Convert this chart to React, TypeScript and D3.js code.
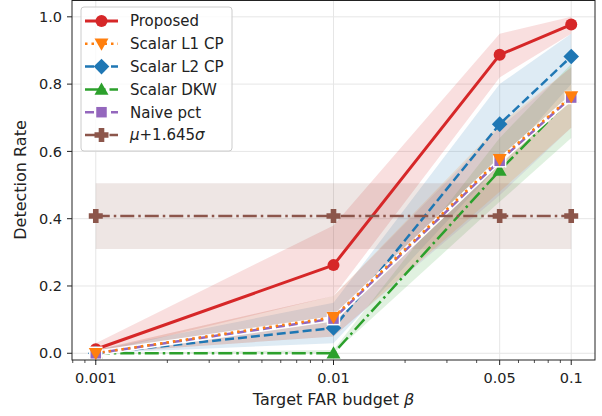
import * as d3 from "d3";
import { useEffect, useRef } from "react";

// x positions (target FAR budget)
const budgets = [0.001, 0.01, 0.05, 0.1];
const xTicks = [0.001, 0.01, 0.05, 0.1];
const xTickLabels = ["0.001", "0.01", "0.05", "0.1"];
const yTicks = [0, 0.2, 0.4, 0.6, 0.8, 1.0];

// series means
const proposed = [0.012, 0.262, 0.887, 0.977];
const l1cp = [0.0, 0.107, 0.577, 0.763];
const l2cp = [0.0, 0.075, 0.681, 0.882];
const dkw = [0.0, 0.0, 0.543, 0.76];
const naive = [0.0, 0.103, 0.572, 0.76];
const musigma = [0.408, 0.408, 0.408, 0.408];

// band bounds
const proposedLo = [0.0, 0.17, 0.82, 0.95];
const proposedHi = [0.03, 0.38, 0.95, 1.0];
const l1cpLo = [0.0, 0.05, 0.48, 0.67];
const l1cpHi = [0.01, 0.17, 0.68, 0.85];
const l2cpLo = [0.0, 0.03, 0.56, 0.8];
const l2cpHi = [0.01, 0.15, 0.8, 0.95];
const dkwLo = [0.0, 0.0, 0.45, 0.64];
const dkwHi = [0.0, 0.01, 0.64, 0.86];
const naiveLo = [0.0, 0.05, 0.47, 0.67];
const naiveHi = [0.01, 0.17, 0.67, 0.85];
const musigmaLo = [0.31, 0.31, 0.31, 0.31];
const musigmaHi = [0.505, 0.505, 0.505, 0.505];

type Series = {
  label: string;
  color: string;
  values: number[];
  lo: number[];
  hi: number[];
  dash: string | null;
  width: number;
  marker: string;
  halo?: boolean;
};

const series: Series[] = [
  { label: "Proposed", color: "#d62728", values: proposed, lo: proposedLo, hi: proposedHi, dash: null, width: 3, marker: "circle" },
  { label: "Scalar L2 CP", color: "#1f77b4", values: l2cp, lo: l2cpLo, hi: l2cpHi, dash: "9,4", width: 2.5, marker: "diamond" },
  { label: "Scalar DKW", color: "#2ca02c", values: dkw, lo: dkwLo, hi: dkwHi, dash: "14,4,2.5,4", width: 2.5, marker: "triUp" },
  { label: "Naive pct", color: "#9467bd", values: naive, lo: naiveLo, hi: naiveHi, dash: "9,4", width: 2.5, marker: "square", halo: true },
  { label: "Scalar L1 CP", color: "#ff7f0e", values: l1cp, lo: l1cpLo, hi: l1cpHi, dash: "2.5,4", width: 2.5, marker: "triDown" },
  { label: "μ+1.645σ", color: "#8c564b", values: musigma, lo: musigmaLo, hi: musigmaHi, dash: "14,4,2.5,4", width: 2.5, marker: "plus" },
];

const legendOrder = ["Proposed", "Scalar L1 CP", "Scalar L2 CP", "Scalar DKW", "Naive pct", "μ+1.645σ"];

const FONT = "DejaVu Sans, sans-serif";

function drawMarker(g: d3.Selection<SVGGElement, unknown, null, undefined>, kind: string, x: number, y: number, color: string) {
  if (kind === "circle") {
    g.append("circle").attr("cx", x).attr("cy", y).attr("r", 6).attr("fill", color);
  } else if (kind === "diamond") {
    const s = 7.8;
    g.append("path").attr("d", `M${x},${y - s}L${x + s},${y}L${x},${y + s}L${x - s},${y}Z`).attr("fill", color);
  } else if (kind === "square") {
    const s = 6;
    g.append("rect").attr("x", x - s).attr("y", y - s).attr("width", 2 * s).attr("height", 2 * s)
      .attr("fill", color).attr("stroke", "white").attr("stroke-width", 1.5);
  } else if (kind === "triDown") {
    const s = 7;
    g.append("path").attr("d", `M${x - s},${y - s * 0.75}L${x + s},${y - s * 0.75}L${x},${y + s}Z`).attr("fill", color);
  } else if (kind === "triUp") {
    const s = 7;
    g.append("path").attr("d", `M${x - s},${y + s * 0.75}L${x + s},${y + s * 0.75}L${x},${y - s}Z`).attr("fill", color);
  } else if (kind === "plus") {
    const a = 7, b = 2.8;
    g.append("path")
      .attr("d", `M${x - b},${y - a}H${x + b}V${y - b}H${x + a}V${y + b}H${x + b}V${y + a}H${x - b}V${y + b}H${x - a}V${y - b}H${x - b}Z`)
      .attr("fill", color);
  }
}

export default function App() {
  const ref = useRef<SVGSVGElement>(null);

  useEffect(() => {
    if (!ref.current) return;
    const svg = d3.select(ref.current);
    svg.selectAll("*").remove();

    const W = 602, H = 416;
    const left = 72, right = 595, top = 0, bottom = 360;

    const x = d3.scaleLog().domain([10 ** -3.1, 10 ** -0.9]).range([left, right]);
    const y = d3.scaleLinear().domain([-0.02, 1.05]).range([bottom, top]);

    svg.attr("viewBox", `0 0 ${W} ${H}`);
    svg.append("rect").attr("width", W).attr("height", H).attr("fill", "white");

    // grid
    const grid = svg.append("g").attr("stroke", "#e6e6e6").attr("stroke-width", 1);
    xTicks.forEach(t => grid.append("line").attr("x1", x(t)).attr("x2", x(t)).attr("y1", top).attr("y2", bottom));
    yTicks.forEach(t => grid.append("line").attr("x1", left).attr("x2", right).attr("y1", y(t)).attr("y2", y(t)));

    const plot = svg.append("g");

    // bands
    series.forEach(s => {
      const area = d3.area<number>()
        .x((_, i) => x(budgets[i]))
        .y0((_, i) => y(s.lo[i]))
        .y1((_, i) => y(s.hi[i]));
      plot.append("path").attr("d", area(s.values) as string).attr("fill", s.color).attr("opacity", 0.15);
    });

    // lines + markers
    const line = d3.line<number>().x((_, i) => x(budgets[i])).y(d => y(d));
    series.forEach(s => {
      if (s.halo) {
        plot.append("path").attr("d", line(s.values) as string).attr("fill", "none")
          .attr("stroke", "white").attr("stroke-width", s.width + 3);
      }
      const p = plot.append("path").attr("d", line(s.values) as string).attr("fill", "none")
        .attr("stroke", s.color).attr("stroke-width", s.width).attr("stroke-linejoin", "round");
      if (s.dash) p.attr("stroke-dasharray", s.dash);
    });
    series.forEach(s => {
      const mg = plot.append("g");
      s.values.forEach((v, i) => drawMarker(mg, s.marker, x(budgets[i]), y(v), s.color));
    });

    // spines
    svg.append("rect").attr("x", left).attr("y", top + 0.5).attr("width", right - left).attr("height", bottom - top - 0.5)
      .attr("fill", "none").attr("stroke", "#222").attr("stroke-width", 1);

    // x ticks
    const ax = svg.append("g").attr("font-family", FONT).attr("font-size", 14.5).attr("fill", "#222");
    xTicks.forEach((t, i) => {
      ax.append("line").attr("x1", x(t)).attr("x2", x(t)).attr("y1", bottom).attr("y2", bottom + 5).attr("stroke", "#222");
      ax.append("text").attr("x", x(t)).attr("y", 383).attr("text-anchor", "middle").text(xTickLabels[i]);
    });
    const [d0, d1] = x.domain();
    for (let e = -4; e <= -1; e++) {
      for (let m = 2; m <= 9; m++) {
        const v = m * 10 ** e;
        if (v < d0 || v > d1 || v === 0.05) continue;
        ax.append("line").attr("x1", x(v)).attr("x2", x(v)).attr("y1", bottom).attr("y2", bottom + 3).attr("stroke", "#222").attr("stroke-width", 0.8);
      }
    }
    // y ticks
    yTicks.forEach(t => {
      ax.append("line").attr("x1", left - 5).attr("x2", left).attr("y1", y(t)).attr("y2", y(t)).attr("stroke", "#222");
      ax.append("text").attr("x", 62).attr("y", y(t)).attr("dy", "0.36em").attr("text-anchor", "end").text(t.toFixed(1));
    });

    // axis labels
    const xl = svg.append("text").attr("x", (left + right) / 2).attr("y", 405).attr("text-anchor", "middle")
      .attr("font-family", FONT).attr("font-size", 16).attr("fill", "#222");
    xl.append("tspan").text("Target FAR budget ");
    xl.append("tspan").attr("font-style", "italic").text("β");
    svg.append("text").attr("transform", `translate(26,${(top + bottom) / 2}) rotate(-90)`).attr("text-anchor", "middle")
      .attr("font-family", FONT).attr("font-size", 16).attr("fill", "#222").text("Detection Rate");

    // legend
    const lg = svg.append("g");
    lg.append("rect").attr("x", 81).attr("y", 7).attr("width", 151).attr("height", 144).attr("rx", 3)
      .attr("fill", "white").attr("fill-opacity", 0.8).attr("stroke", "#cccccc");
    legendOrder.forEach((name, i) => {
      const s = series.find(d => d.label === name)!;
      const cy = 21 + i * 22.8;
      const l = lg.append("line").attr("x1", 85).attr("x2", 118).attr("y1", cy).attr("y2", cy)
        .attr("stroke", s.color).attr("stroke-width", s.width);
      if (s.dash) l.attr("stroke-dasharray", s.dash);
      const mg = lg.append("g");
      drawMarker(mg, s.marker, 101.5, cy, s.color);
      const t = lg.append("text").attr("x", 130).attr("y", cy).attr("dy", "0.36em")
        .attr("font-family", FONT).attr("font-size", 15).attr("fill", "#222");
      if (name === "μ+1.645σ") {
        t.append("tspan").attr("font-style", "italic").text("μ");
        t.append("tspan").text("+1.645");
        t.append("tspan").attr("font-style", "italic").text("σ");
      } else {
        t.text(name);
      }
    });
  }, []);

  return <svg ref={ref} width={602} height={416} style={{ display: "block", position: "absolute", left: 0, top: 0 }} />;
}
